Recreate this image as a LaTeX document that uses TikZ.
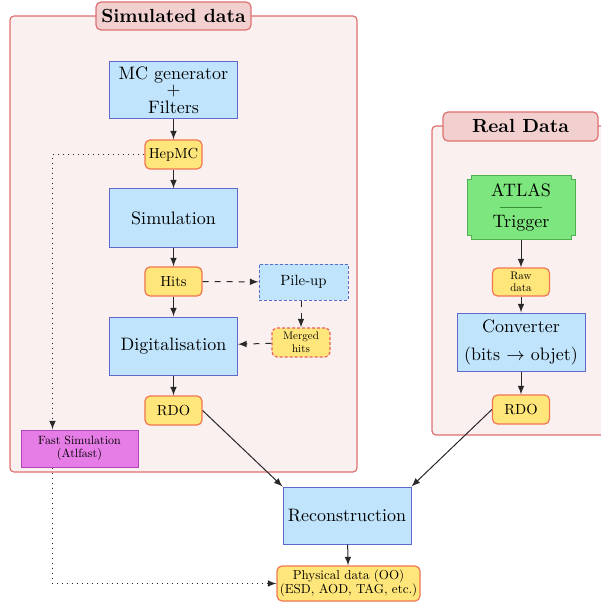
\documentclass[tikz,border=0pt]{standalone}
\usepackage{xcolor}
\usepackage{fontspec}
\setmainfont{lmroman10-regular.otf}[BoldFont=lmroman10-bold.otf]
\usepackage{tikz}
\usetikzlibrary{arrows, positioning, calc}
\definecolor{framebg}{RGB}{250, 240, 240}
\definecolor{framered}{RGB}{222, 112, 112}
\definecolor{titlebg}{RGB}{242, 208, 208}
\definecolor{bluebox}{RGB}{192, 228, 252}
\definecolor{blueline}{RGB}{95, 105, 205}
\definecolor{yellowbox}{RGB}{255, 230, 122}
\definecolor{yellowline}{RGB}{240, 118, 80}
\definecolor{dashred}{RGB}{235, 95, 95}
\definecolor{greenbox}{RGB}{126, 230, 126}
\definecolor{greenline}{RGB}{80, 175, 80}
\definecolor{darkgreenline}{RGB}{55, 145, 55}
\definecolor{magbox}{RGB}{230, 125, 230}
\definecolor{magline}{RGB}{175, 70, 185}
\definecolor{arrowgrey}{RGB}{40, 40, 40}
\pgfdeclarelayer{background}
\pgfsetlayers{background,main}

\tikzset{
    frame/.style={draw=framered, fill=framebg, line width=0.6pt, rounded corners=2pt},
    titlebox/.style={draw=framered, fill=titlebg, line width=0.6pt, rounded corners=2.5pt,
          minimum width=77.5pt, minimum height=14pt, inner sep=0pt,
          font=\fontsize{9.5}{11}\selectfont\bfseries},
    process/.style={draw=blueline, fill=bluebox, line width=0.5pt, minimum width=64pt,
          minimum height=28.5pt, inner sep=0pt, align=center, font=\fontsize{9}{11}\selectfont},
    datafile/.style={draw=yellowline, fill=yellowbox, line width=0.6pt, rounded corners=2.5pt,
          minimum width=28.5pt, minimum height=14.5pt, inner sep=0pt, align=center,
          font=\fontsize{7.3}{8}\selectfont},
    tinyfont/.style={font=\fontsize{5.5}{6.3}\selectfont},
    flow/.style={-latex, line width=0.5pt, draw=arrowgrey},
    sideflow/.style={-latex, line width=0.5pt, draw=arrowgrey, dashed},
    shortcut/.style={-latex, line width=0.5pt, draw=arrowgrey, dotted}
}

\begin{document}
\begin{tikzpicture}[x=0.5pt, y=-0.5pt]
    \useasboundingbox (0,0) rectangle (600,604);

    % frames
    \begin{pgfonlayer}{background}
        \draw[frame] (10,16) rectangle (357,472);
        \draw[frame] (432,126) rectangle (614,435);
    \end{pgfonlayer}
    \node[titlebox] (simtitle) at (173.5,16) {Simulated data};
    \node[titlebox, minimum height=14.5pt] (realtitle) at (520.5,126.5) {Real Data};

    % simulated chain
    \node[process] (mcgen) at (173.5,90.5) {MC generator\\[-3pt]+\\[-2pt]Filters};
    \node[datafile] (hepmc) at (173.5,154.5) {HepMC};
    \node[process, minimum height=29pt] (simul) at (173.5,218) {Simulation};
    \node[datafile] (hits) at (173.5,281.5) {Hits};
    \node[process, minimum width=44.5pt, minimum height=18pt, dash pattern=on 1.5pt off 1pt,
          font=\fontsize{7.4}{8}\selectfont] (pileup) at (303.5,282) {Pile-up};
    \node[process, minimum height=29pt] (digit) at (173.5,346) {Digitalisation};
    \node[datafile, tinyfont, draw=dashred, minimum width=29pt, dash pattern=on 1.5pt off 1pt]
          (merged) at (301,342.5) {Merged\\hits};
    \node[datafile] (rdosim) at (173.5,410.5) {RDO};
    \node[process, draw=magline, fill=magbox, minimum width=58.5pt, minimum height=18.5pt,
          font=\fontsize{6}{6.5}\selectfont] (fastsim) at (79.5,448.5) {Fast Simulation\\(Atlfast)};

    % real chain
    \node[process, draw=none, fill=none, minimum width=53.5pt, minimum height=31.5pt]
          (trig) at (521,207.5) {ATLAS\\[4.5pt]Trigger};
    \begin{pgfonlayer}{background}
        \draw[draw=greenline, fill=greenbox, line width=0.5pt]
            ([xshift=2pt]trig.north west) -- ([xshift=-2pt]trig.north east)
            -- ([xshift=-2pt,yshift=-2pt]trig.north east) -- ([yshift=-2pt]trig.north east)
            -- ([yshift=2pt]trig.south east) -- ([xshift=-2pt,yshift=2pt]trig.south east)
            -- ([xshift=-2pt]trig.south east) -- ([xshift=2pt]trig.south west)
            -- ([xshift=2pt,yshift=2pt]trig.south west) -- ([yshift=2pt]trig.south west)
            -- ([yshift=-2pt]trig.north west) -- ([xshift=2pt,yshift=-2pt]trig.north west) -- cycle;
    \end{pgfonlayer}
    \draw[darkgreenline, line width=0.6pt] ([xshift=-10.5pt]trig.center) -- ([xshift=10.5pt]trig.center);
    \node[datafile, tinyfont, minimum height=14pt] (rawdata) at (521,282) {Raw\\data};
    \node[process, minimum height=29pt] (conv) at (521,342) {Converter\\[3pt](bits $\rightarrow$ objet)};
    \node[datafile] (rdoreal) at (521,409.5) {RDO};

    % common part
    \node[process] (reco) at (347,515.5) {Reconstruction};
    \node[datafile, minimum width=71.5pt, minimum height=17.5pt,
          font=\fontsize{6.5}{7}\selectfont] (phys) at (348.5,583.5) {Physical data (OO)\\(ESD, AOD, TAG, etc.)};

    % connectors
    \draw[flow] (mcgen) -- (hepmc);
    \draw[flow] (hepmc) -- (simul);
    \draw[flow] (simul) -- (hits);
    \draw[flow] (hits) -- (digit);
    \draw[flow] (digit) -- (rdosim);
    \draw[sideflow] (hits) -- (pileup);
    \draw[sideflow] (pileup.south -| merged.north) -- (merged.north);
    \draw[sideflow] (merged) -- (digit);
    \draw[shortcut] (hepmc.west) -| ([xshift=16pt]fastsim.north west);
    \draw[shortcut] ([xshift=16pt]fastsim.south west) |- (phys.west);
    \draw[flow] (trig) -- (rawdata);
    \draw[flow] (rawdata) -- (conv);
    \draw[flow] (conv) -- (rdoreal);
    \draw[flow] (rdosim.east) -- (reco.north west);
    \draw[flow] (rdoreal.west) -- (reco.north east);
    \draw[flow] (reco) -- (phys);
\end{tikzpicture}
\end{document}
